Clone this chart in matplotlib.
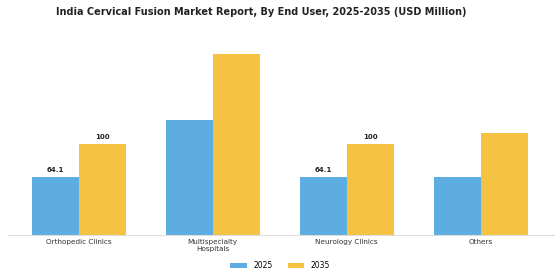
import matplotlib.pyplot as plt
import numpy as np

categories = ["Orthopedic Clinics", "Multispecialty\nHospitals", "Neurology Clinics", "Others"]
values_2025 = [64.1, 127, 64.1, 64.1]
values_2035 = [100, 199, 100, 112]
labels_2025 = ["64.1", "", "64.1", ""]
labels_2035 = ["100", "", "100", ""]

fig = plt.figure(figsize=(5.6, 2.8), dpi=100)
ax = fig.add_axes([0.014, 0.161, 0.976, 0.714])

x = np.arange(len(categories))
w = 0.35
b1 = ax.bar(x - w / 2, values_2025, w, color="#5DADE2", label="2025")
b2 = ax.bar(x + w / 2, values_2035, w, color="#F5C242", label="2035")

for bars, labs in [(b1, labels_2025), (b2, labels_2035)]:
    for rect, lab in zip(bars, labs):
        if lab:
            ax.text(rect.get_x() + rect.get_width() / 2, rect.get_height() + 4, lab,
                    ha="center", va="bottom", fontsize=5, fontweight="bold", color="#222222")

ax.set_xlim(-0.53, 3.55)
ax.set_ylim(0, 220)
ax.set_xticks(x)
ax.set_xticklabels(categories, fontsize=5.2, color="#333333")
ax.tick_params(axis="x", length=0, pad=3)
ax.set_yticks([])
for s in ["top", "right", "left"]:
    ax.spines[s].set_visible(False)
ax.spines["bottom"].set_color("#dddddd")

fig.suptitle("India Cervical Fusion Market Report, By End User, 2025-2035 (USD Million)",
             fontsize=7, fontweight="bold", x=0.466, y=0.975, color="#222222")
fig.legend(loc="lower center", ncol=2, fontsize=5.5, frameon=False,
           bbox_to_anchor=(0.5, 0.01), handlelength=2.2, handleheight=0.6, columnspacing=2.0)

fig.savefig("out.png", dpi=100)
